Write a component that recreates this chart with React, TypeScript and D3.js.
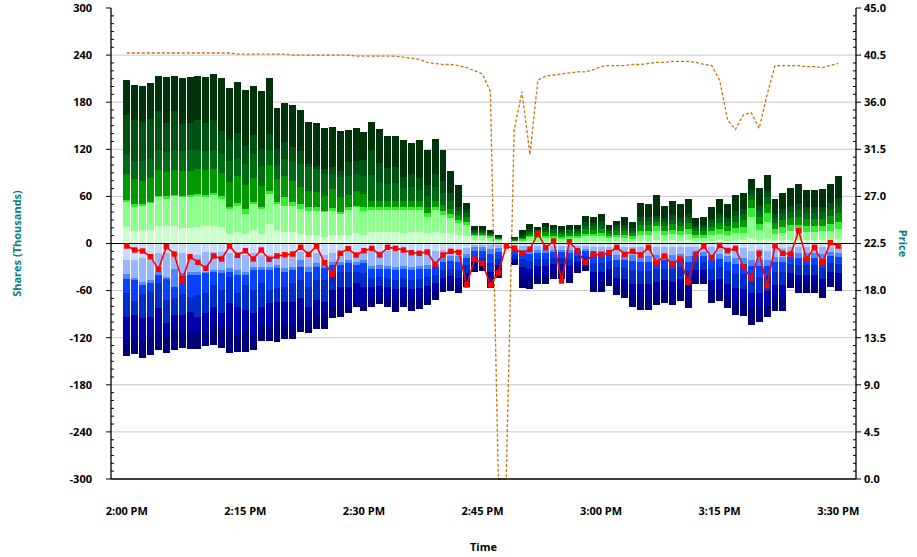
import React from "react";
import * as d3 from "d3";

// ---- DATA ----
const startHour = 14; // 2:00 PM, one bar per minute
const xTickLabels = ["2:00 PM", "2:15 PM", "2:30 PM", "2:45 PM", "3:00 PM", "3:15 PM", "3:30 PM"];
const leftTicks = [-300, -240, -180, -120, -60, 0, 60, 120, 180, 240, 300];
const rightTicks = [0, 4.5, 9, 13.5, 18, 22.5, 27, 31.5, 36, 40.5, 45];

// buy-side volume per minute (thousands), 7 layers bottom -> top
const buyVolume = [
  [20.8, 31.8, 3.0, 33.1, 24.2, 51.0, 45.0],
  [15.7, 30.6, 4.2, 31.8, 23.4, 51.8, 44.6],
  [16.6, 31.8, 2.1, 29.7, 25.5, 49.7, 45.4],
  [17.8, 33.5, 2.1, 30.1, 24.2, 51.0, 45.4],
  [22.9, 36.1, 2.1, 32.7, 25.5, 50.1, 44.2],
  [22.1, 34.8, 3.0, 31.0, 25.5, 36.9, 59.0],
  [21.7, 38.2, 2.1, 31.0, 26.3, 49.7, 44.6],
  [19.5, 39.5, 2.1, 31.0, 25.1, 35.2, 58.2],
  [19.5, 40.3, 2.1, 31.0, 26.3, 34.0, 59.0],
  [20.8, 40.3, 2.1, 31.8, 24.2, 38.2, 56.1],
  [21.7, 37.4, 2.1, 31.8, 24.2, 36.1, 59.0],
  [22.9, 39.5, 1.7, 31.0, 24.2, 38.2, 58.2],
  [20.8, 36.1, 3.0, 29.7, 24.6, 29.7, 66.7],
  [12.3, 31.8, 2.1, 32.7, 25.9, 27.2, 65.8],
  [14.9, 33.5, 3.0, 35.2, 22.5, 31.4, 65.4],
  [12.3, 25.5, 6.4, 29.7, 27.6, 22.1, 72.2],
  [16.6, 34.0, 2.1, 31.0, 29.7, 24.2, 63.3],
  [12.3, 31.8, 2.1, 27.6, 25.5, 21.2, 73.5],
  [25.1, 38.2, 3.4, 32.7, 19.1, 21.2, 70.9],
  [17.4, 33.1, 2.1, 29.7, 17.0, 21.2, 52.7],
  [14.4, 34.0, 10.6, 27.6, 21.2, 21.2, 50.5],
  [14.4, 34.0, 4.2, 27.6, 23.4, 19.1, 53.9],
  [12.3, 31.8, 6.4, 21.2, 29.7, 17.0, 51.4],
  [10.2, 31.8, 4.2, 21.2, 29.7, 4.2, 53.5],
  [10.2, 31.8, 4.2, 19.1, 29.7, 4.2, 53.9],
  [8.1, 31.8, 2.1, 19.1, 26.8, 7.2, 51.8],
  [10.2, 31.0, 3.8, 24.6, 19.1, 8.5, 51.4],
  [10.2, 27.6, 2.1, 19.1, 26.3, 7.6, 51.0],
  [10.2, 32.7, 3.4, 16.1, 24.2, 17.0, 41.6],
  [13.2, 33.1, 2.1, 19.1, 21.2, 17.0, 41.2],
  [10.2, 31.8, 4.2, 17.0, 23.4, 20.0, 35.7],
  [15, 27.7, 4, 8, 32, 32.3, 35.8],
  [15, 27.7, 4, 8, 24, 23.3, 44.2],
  [15, 27.7, 4, 8, 21, 20.1, 41.1],
  [15, 27.7, 4, 8, 22, 21.3, 38.6],
  [14, 28.7, 4, 8, 16, 14.3, 46.5],
  [15, 27.7, 4, 8, 17, 17.3, 39.4],
  [15, 27.7, 4, 8, 14, 14.3, 48.5],
  [14, 20, 5, 8, 14, 13.5, 44.6],
  [15, 27.7, 4, 8, 17, 17.3, 43.7],
  [14, 22, 5, 8, 15, 15, 39.7],
  [13, 19, 5, 7, 10, 10, 28.4],
  [10.8, 14.9, 4, 6, 6, 5.3, 27.5],
  [9, 14.6, 4, 6, 5, 4.1, 8.9],
  [4.5, 5.1, 1.7, 1.7, 2.1, 2.1, 5.5],
  [4.5, 5.1, 1.7, 1.7, 2.1, 2.1, 5.5],
  [3.5, 4, 1.5, 1.5, 1.7, 1.7, 3.7],
  [2, 2.5, 1, 1, 1, 1, 2.7],
  [0, 0, 0, 0, 0, 0, 0],
  [1.5, 1.5, 0.5, 1, 1, 1, 1.5],
  [1.6, 2, 1.5, 1.5, 2.1, 2.1, 6.4],
  [2.8, 5, 2, 2.2, 3, 3, 6.8],
  [2.4, 4, 2.4, 5, 2, 1.6, 3.4],
  [2.4, 4.5, 2.5, 5, 3, 3, 5.5],
  [2.4, 4.3, 2.4, 4.5, 3, 2.5, 5],
  [2.2, 4, 2, 4, 3, 2.5, 4.3],
  [2.4, 4.3, 2.4, 4.5, 3, 2.5, 4.5],
  [2.4, 4.5, 2.3, 4.3, 3, 2.6, 4.5],
  [3, 6, 3, 6, 4.5, 4.5, 8],
  [3, 6, 3, 5.5, 4.5, 4.4, 7],
  [3.5, 6.5, 3, 6, 5, 5, 8.2],
  [2.4, 4.5, 2.3, 4.3, 3, 2.6, 4.5],
  [3, 5, 2.5, 5, 4, 4, 5.5],
  [2.5, 5, 3.5, 4.5, 4, 3.5, 10.4],
  [2, 4, 3, 4, 3.5, 3, 7.9],
  [3.5, 7.5, 5, 7, 6, 5, 17.2],
  [3.5, 7.5, 5, 7, 6, 5, 15.9],
  [5, 11.5, 5.3, 5.3, 4.2, 4.3, 26.2],
  [3.5, 7, 5, 6.5, 5.5, 5, 15.7],
  [4, 8, 5.5, 7, 6, 5.5, 18.5],
  [3.5, 7.5, 5, 6.5, 5.5, 5, 16.9],
  [4, 8, 6, 7.5, 6.5, 5.5, 18.8],
  [2.5, 5, 3.5, 4.5, 4, 3, 9.6],
  [2.5, 5, 3.5, 4.5, 4, 3.5, 10.4],
  [3.5, 7, 5, 6, 5.5, 4.5, 14.6],
  [4, 8.5, 6, 7.5, 6.5, 5.5, 18.3],
  [3.5, 7.5, 5, 6.5, 5.5, 5, 16.9],
  [4.5, 9, 6.5, 8, 7, 6, 20.4],
  [4.5, 9.5, 7, 8.5, 7.5, 6.5, 21.2],
  [6.4, 27.6, 10.6, 10.6, 6.4, 6.3, 14],
  [5, 12, 8, 9, 8, 7, 21.7],
  [6, 22, 11, 11, 9, 8, 20.3],
  [4, 8.5, 6, 7.5, 6.5, 5.5, 18.3],
  [4.5, 9.5, 7, 8.5, 7.5, 6.5, 21.2],
  [5, 10.5, 7.5, 9, 8.5, 7, 23.6],
  [5, 11, 8, 10, 9, 7.5, 25.3],
  [5, 10, 7, 9, 8, 7, 21.8],
  [5, 10, 7, 9, 8, 7, 21.8],
  [5, 10.5, 7, 9, 8.5, 7, 22.4],
  [5, 11.5, 8, 10, 9, 7.5, 24.8],
  [6, 13, 9, 11, 10, 8.5, 28.5],
];

// sell-side volume per minute (thousands), 7 layers from zero downward
const sellVolume = [
  [21, 18.3, 6.4, 17, 30.6, 28.9, 21.2],
  [21, 23.4, 2.1, 26.8, 17.8, 28.5, 21.2],
  [18.9, 29.7, 4.2, 11.9, 30.6, 29.7, 20.4],
  [14.6, 31.8, 4.2, 10.6, 31.8, 27.6, 21.7],
  [12.5, 23.4, 4.2, 10.6, 31.8, 29.7, 23.4],
  [12.5, 29.7, 3.4, 26.3, 29.7, 17, 21.2],
  [12.5, 20.4, 22.1, 14.9, 21.2, 19.1, 25.5],
  [12.5, 25.5, 3.4, 22.9, 26.8, 21.2, 20.8],
  [16.8, 19.1, 4.2, 27.6, 19.1, 27.6, 20.4],
  [14.6, 21.2, 4.2, 25.5, 27.6, 20.4, 20.4],
  [10.4, 25.5, 2.1, 25.5, 25.5, 22.1, 19.5],
  [10.4, 23.4, 2.1, 17, 27.6, 23.4, 25.9],
  [10.4, 23.4, 4.2, 21.2, 29.7, 19.1, 25.1],
  [12.5, 19.1, 4.2, 6.4, 34, 31.8, 31],
  [14.6, 19.1, 6.4, 23.4, 17, 36.1, 22.1],
  [14.6, 21.2, 4.2, 12.7, 31.8, 25.5, 28],
  [12.5, 17, 4.2, 25.5, 29.7, 27.6, 19.1],
  [14.6, 14.9, 4.2, 17, 29.7, 24.6, 18.7],
  [14.6, 14.9, 4.2, 25.5, 17, 30.6, 17],
  [12.5, 14.9, 4.2, 25.5, 17, 23.4, 27.6],
  [14.6, 17, 4.2, 19.1, 19.1, 29.7, 17.8],
  [12.5, 17, 4.2, 17, 23.4, 29.7, 17.8],
  [10.4, 10.6, 8.5, 17, 23.4, 23.4, 19.5],
  [14.6, 14.9, 6.4, 19.1, 25.5, 17, 16.1],
  [12.5, 12.7, 4.2, 17, 25.5, 19.1, 18.3],
  [14.6, 12.7, 4.2, 14.9, 27.6, 14.9, 20.4],
  [12.5, 10.6, 4.2, 10.6, 21.2, 21.2, 14.4],
  [12.5, 10.6, 4.2, 8.5, 19.1, 21.2, 17],
  [10.4, 10.6, 4.2, 10.6, 19.1, 23.4, 9.8],
  [12.5, 10.6, 4.2, 8.5, 14.9, 23.4, 6.8],
  [10.4, 10.6, 4.2, 12.7, 17, 23.4, 8.1],
  [10, 19, 4, 11, 11, 13, 12.5],
  [10, 18, 4, 11, 11, 12, 11.1],
  [10, 19, 4, 11, 11, 13, 12.5],
  [10, 20, 4, 12, 12, 14, 14.9],
  [10, 19, 4, 11, 11, 13, 12.5],
  [10, 20, 4, 12, 12, 14, 13.6],
  [10, 19, 4, 12, 12, 13, 13.4],
  [10, 18, 4, 11, 11, 12, 12.3],
  [9, 17, 4, 10, 10, 11, 11],
  [8.3, 8.5, 6.4, 10.6, 10.6, 8.5, 8.5],
  [8, 8, 6, 10, 10, 9, 9.1],
  [8, 8.5, 6.5, 10.5, 10.5, 9, 9.7],
  [6, 7, 6, 9, 9, 9, 9],
  [2, 3, 5, 8, 6, 6, 5.9],
  [2, 3, 5, 8, 6, 5, 5.6],
  [2, 5, 6, 12, 11, 11, 10.1],
  [2, 4, 5, 9, 8, 8, 8.3],
  [0, 0, 0, 0, 0, 0, 0],
  [2, 4, 3, 6, 5, 4, 3.4],
  [3, 5, 4, 8, 10, 13, 14.1],
  [3, 6, 4, 9, 10, 12, 14.3],
  [3, 5, 4, 8, 9, 11, 11.6],
  [3, 5, 4, 8, 9, 11, 11.6],
  [3, 5, 3, 7, 8, 9, 10.6],
  [3, 5, 3, 7, 8, 9, 10.6],
  [3, 5, 4, 8, 9, 10, 10.9],
  [3, 4, 3, 6, 7, 7, 8],
  [3, 4, 3, 6, 6, 6, 6.6],
  [4, 6, 5, 10, 11, 12, 13.4],
  [4, 6, 5, 10, 11, 12, 13.4],
  [4, 5, 4, 9, 10, 10, 12.1],
  [5, 10, 6, 8.5, 15, 10, 11.1],
  [5, 10, 6, 10, 14, 12, 12.8],
  [5, 10, 7, 12, 17, 15, 15.3],
  [5, 11, 7, 12, 17, 16, 16.7],
  [5, 11, 7, 12, 17, 16, 16.7],
  [5, 10, 7, 11, 16, 14, 15.3],
  [5, 10, 6, 11, 15, 14, 14.4],
  [5, 10, 7, 11, 16, 14, 15.3],
  [5, 9, 6, 10, 15, 13, 14.9],
  [5, 11, 7, 12, 17, 15, 15.5],
  [4, 7, 5, 8, 10, 9, 8.6],
  [4, 7, 5, 8, 10, 9, 9],
  [5, 10, 6, 11, 15, 14, 14.4],
  [5, 9, 6, 10, 15, 13, 14.9],
  [5, 11, 7, 12, 17, 15, 15.5],
  [6, 12, 8, 13, 18, 17, 17.1],
  [6, 12, 8, 13, 19, 17, 17.4],
  [10, 11, 8, 14, 20, 19, 21.8],
  [7, 13, 9, 14, 20, 18, 18.6],
  [9, 12, 8, 13, 19, 17, 16],
  [6, 11, 7, 12, 17, 16, 16.6],
  [6, 11, 7, 12, 17, 16, 16.6],
  [4, 8, 5, 9, 11, 10, 10.1],
  [4, 8, 6, 10, 12, 11, 11.7],
  [4, 8, 6, 10, 12, 11, 12.4],
  [4, 8, 6, 10, 12, 11, 12.4],
  [5, 9, 6, 11, 14, 12, 12.8],
  [4, 7, 5, 9, 11, 9, 10],
  [4, 8, 5, 9, 12, 11, 11.1],
];

// net shares per minute (thousands), red line
const netShares = [
  -3.2, -8.3, -9.6, -16.8, -32.9, -4.1, -13.4, -47.4, -16.8, -24, -31.6, -15.9, -19.7, -3.2, -15,
  -9.2, -19.7, -8.3, -20.1, -15.9, -14.3, -13.4, -4.8, -13.8, -3.2, -24.5, -39.2, -12.5, -6.6, -14.6,
  -9.2, -6.2, -14.6, -4.9, -6.2, -8.3, -11.7, -12.5, -10.8, -26.5, -14.6, -10, -11.2, -52.9, -20.1,
  -25.2, -52.9, -37.2, -3.2, -6.2, -12.5, -7.4, 13, -5.3, 3.2, -47.8, 2.3, -9.2, -24.5, -13.4,
  -14.3, -11.7, -4.9, -13.8, -10, -14.6, -4.9, -24.5, -15.9, -26.1, -19.7, -49.4, -13.4, -3.2, -18.1,
  -2.3, -9.2, -6.2, -29.6, -44.8, -12.5, -54.1, -2.8, -12.5, -13.4, 16.3, -20.1, -4.9, -24.5, 1, -3.2,
];

// price per minute (right axis)
const price = [
  40.7, 40.7, 40.7, 40.7, 40.7, 40.7, 40.7, 40.7, 40.7, 40.7, 40.7, 40.7, 40.7, 40.7,
  40.6, 40.6, 40.6, 40.6, 40.6, 40.6, 40.6,
  40.5, 40.5, 40.5, 40.5, 40.5, 40.5, 40.5, 40.5,
  40.4, 40.4, 40.4, 40.4, 40.4, 40.4,
  40.3, 40.2, 40.1, 39.8, 39.7, 39.6, 39.6, 39.5, 39.3, 39.0, 38.7, 37.0, 0, 0, 33.3, 37.0, 31.0, 38.1,
  38.5, 38.6, 38.7, 38.8, 38.9, 38.9, 39.1, 39.4, 39.5, 39.5, 39.5, 39.6, 39.6, 39.7, 39.8, 39.8,
  39.9, 39.9, 39.9, 39.8, 39.6, 39.5, 38.1, 34.3, 33.4, 34.8, 35.0, 33.5, 36.7, 39.5, 39.5, 39.5,
  39.5, 39.4, 39.4, 39.3, 39.5, 39.7,
];

const greenColors = ["#ccffcc", "#8cff8c", "#2eee2e", "#009a00", "#006a14", "#005212", "#00330a"];
const blueColors = ["#cadbff", "#97b6ff", "#4f86ff", "#0a40ff", "#002ccc", "#0000aa", "#00007c"];

const keys = ["l0", "l1", "l2", "l3", "l4", "l5", "l6"];

export default function App() {
  const W = 917, H = 557;
  const left = 111, right = 856, top = 8, bottom = 479;
  const day = (h: number, m: number, s = 0) => new Date(2020, 0, 1, h, m, s);
  const x = d3.scaleTime().domain([day(13, 58), day(15, 32, 15)]).range([left, right]);
  const yL = d3.scaleLinear().domain([-300, 300]).range([bottom, top]);
  const yR = d3.scaleLinear().domain([0, 45]).range([bottom, top]);

  const times = buyVolume.map((_, i) => day(startHour, i));
  const buyTable = buyVolume.map((r, i) => {
    const o: any = { t: times[i] };
    keys.forEach((k, j) => (o[k] = r[j]));
    return o;
  });
  const sellTable = sellVolume.map((r, i) => {
    const o: any = { t: times[i] };
    keys.forEach((k, j) => (o[k] = -r[j]));
    return o;
  });
  const stack = d3.stack<any>().keys(keys).offset(d3.stackOffsetDiverging);
  const buyStack = stack(buyTable);
  const sellStack = stack(sellTable);

  const step = x(day(14, 1)) - x(day(14, 0));
  const bw = step * 0.88;

  const netLine = d3
    .line<number>()
    .x((_, i) => x(times[i]))
    .y((d) => yL(d));
  const priceLine = d3
    .line<number>()
    .x((_, i) => x(times[i]))
    .y((d) => yR(d));

  const xTicks = d3.timeMinute.every(15)!.range(day(14, 0), day(15, 30, 1));
  const minorL = d3.range(-300, 301, 10).filter((v) => v % 60 !== 0);
  const minorR = d3.range(0, 45.01, 0.75).filter((_, i) => i % 6 !== 0);

  const font = "'Open Sans', 'DejaVu Sans', sans-serif";
  const teal = "#0e7c7c";

  return (
    <svg width={W} height={H} style={{ position: "absolute", left: 0, top: 0, background: "#fff" }} fontFamily={font}>
      {/* grid */}
      {leftTicks
        .filter((v) => v !== 0 && v !== -300 && v !== 300)
        .map((v) => (
          <line key={"g" + v} x1={left} x2={right} y1={yL(v)} y2={yL(v)} stroke="#c8c8c8" strokeWidth={1} />
        ))}
      {/* buy bars */}
      {buyStack.map((layer, li) => (
        <g key={"b" + li} fill={greenColors[li]}>
          {layer.map((d, i) =>
            d[1] - d[0] > 0 ? (
              <rect
                key={i}
                x={x(times[i]) - bw / 2}
                width={bw}
                y={yL(d[1])}
                height={yL(d[0]) - yL(d[1])}
                shapeRendering="crispEdges"
              />
            ) : null
          )}
        </g>
      ))}
      {/* sell bars */}
      {sellStack.map((layer, li) => (
        <g key={"s" + li} fill={blueColors[li]}>
          {layer.map((d, i) =>
            d[1] - d[0] > 0 ? (
              <rect
                key={i}
                x={x(times[i]) - bw / 2}
                width={bw}
                y={yL(d[1])}
                height={yL(d[0]) - yL(d[1])}
                shapeRendering="crispEdges"
              />
            ) : null
          )}
        </g>
      ))}
      {/* zero line */}
      <line x1={left} x2={right} y1={yL(0)} y2={yL(0)} stroke="#000" strokeWidth={1.2} />
      {/* net shares line */}
      <path d={netLine(netShares) || ""} fill="none" stroke="#ff0000" strokeWidth={1.6} />
      {netShares.map((v, i) => (
        <rect key={"n" + i} x={x(times[i]) - 2.7} y={yL(v) - 2.7} width={5.4} height={5.4} fill="#ff0000" />
      ))}
      {/* price line */}
      <path d={priceLine(price) || ""} fill="none" stroke="#c8740f" strokeWidth={1.3} strokeDasharray="3,2" />

      {/* axes */}
      <line x1={left} x2={left} y1={top} y2={bottom} stroke="#000" strokeWidth={1.3} />
      <line x1={right} x2={right} y1={top} y2={bottom} stroke="#000" strokeWidth={1.3} />
      <line x1={left} x2={right} y1={bottom} y2={bottom} stroke="#000" strokeWidth={1.3} />
      {leftTicks.map((v) => (
        <g key={"lt" + v}>
          <line x1={left - 5} x2={left} y1={yL(v)} y2={yL(v)} stroke="#000" />
          <text x={92} y={yL(v)} dy="0.35em" textAnchor="end" fontSize={11} fontWeight={700}>
            {v}
          </text>
        </g>
      ))}
      {minorL.map((v) => (
        <line key={"lm" + v} x1={left} x2={left + 3} y1={yL(v)} y2={yL(v)} stroke="#000" />
      ))}
      {rightTicks.map((v) => (
        <g key={"rt" + v}>
          <line x1={right} x2={right + 5} y1={yR(v)} y2={yR(v)} stroke="#000" />
          <text x={864} y={yR(v)} dy="0.35em" textAnchor="start" fontSize={11} fontWeight={700}>
            {v.toFixed(1)}
          </text>
        </g>
      ))}
      {minorR.map((v, i) => (
        <line key={"rm" + i} x1={right - 3} x2={right} y1={yR(v)} y2={yR(v)} stroke="#000" />
      ))}
      {xTicks.map((t, i) => (
        <text key={"xt" + i} x={x(t)} y={515} textAnchor="middle" fontSize={11} fontWeight={700}>
          {xTickLabels[i]}
        </text>
      ))}
      <text x={(left + right) / 2} y={551} textAnchor="middle" fontSize={11} fontWeight={700}>
        Time
      </text>
      <text
        transform={`translate(21,${yL(0)}) rotate(-90)`}
        textAnchor="middle"
        fontSize={11}
        fontWeight={700}
        fill={teal}
      >
        Shares (Thousands)
      </text>
      <text
        transform={`translate(899,${yL(0)}) rotate(90)`}
        textAnchor="middle"
        fontSize={11}
        fontWeight={700}
        fill={teal}
      >
        Price
      </text>
    </svg>
  );
}
